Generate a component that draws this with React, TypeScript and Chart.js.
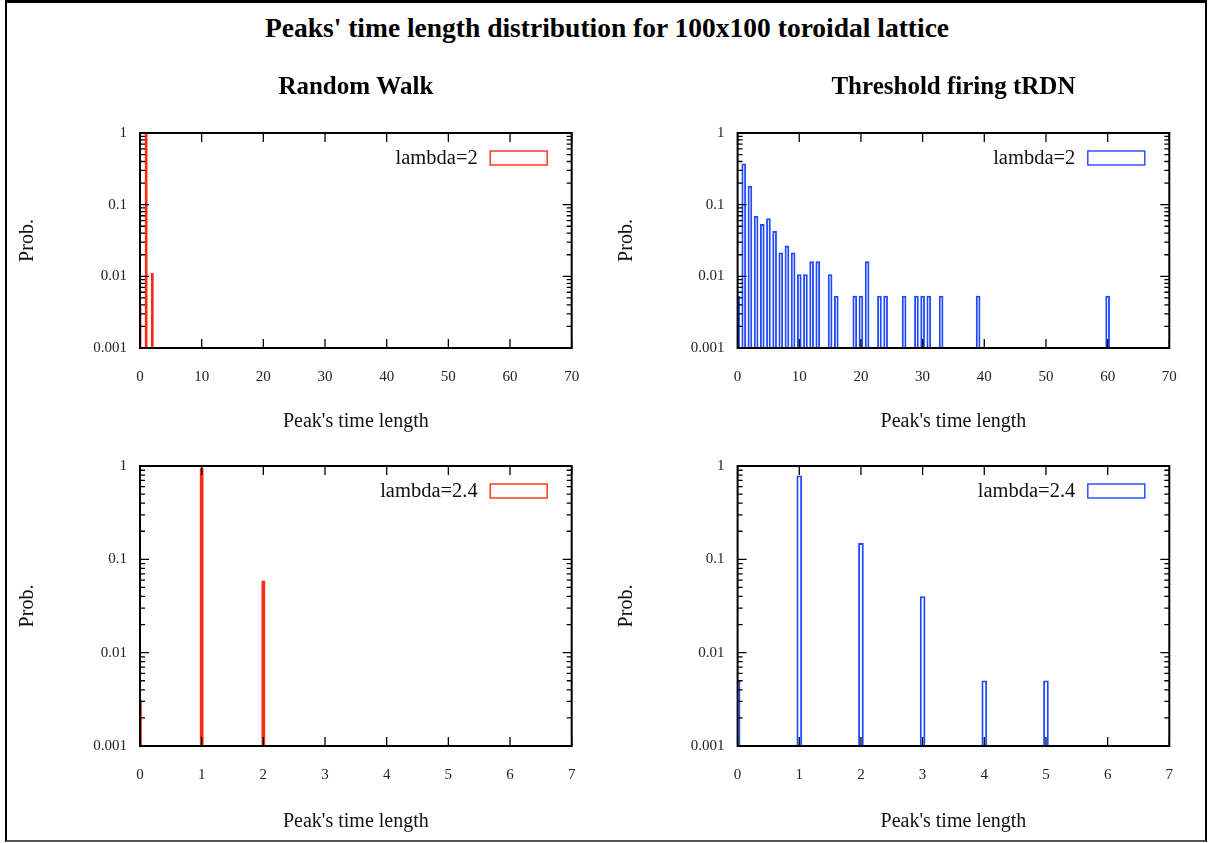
import React, { useEffect, useRef } from 'react';
import { Chart, registerables } from 'chart.js';

Chart.register(...registerables);

const FONT = '"Liberation Serif", "Times New Roman", serif';

const MAIN_TITLE = "Peaks' time length distribution for 100x100 toroidal lattice";
const COLUMN_TITLES = ['Random Walk', 'Threshold firing tRDN'];
const X_LABEL = "Peak's time length";
const Y_LABEL = 'Prob.';
const Y_TICKS = [0.001, 0.01, 0.1, 1];
const Y_TICK_LABELS = ['0.001', '0.01', '0.1', '1'];
const LEGEND_LABELS = ['lambda=2', 'lambda=2.4'];

// Random Walk, lambda=2
const rwL2Length = [0, 1, 2];
const rwL2Prob = [0.0037, 0.985, 0.011];

// Random Walk, lambda=2.4
const rwL24Length = [0, 1, 2];
const rwL24Prob = [0.0031, 0.945, 0.0586];

// Threshold firing tRDN, lambda=2
const trL2Length = [0, 1, 2, 3, 4, 5, 6, 7, 8, 9, 10, 11, 12, 13, 15, 16, 19, 20, 21, 23, 24, 27, 29, 30, 31, 33, 39, 60];
const trL2Prob = [
  0.0053, 0.372, 0.181, 0.069, 0.053, 0.064, 0.0426, 0.0213, 0.0266, 0.0213,
  0.0106, 0.0106, 0.016, 0.016, 0.0106, 0.0053, 0.0053, 0.0053, 0.016, 0.0053,
  0.0053, 0.0053, 0.0053, 0.0053, 0.0053, 0.0053, 0.0053, 0.0053,
];

// Threshold firing tRDN, lambda=2.4
const trL24Length = [0, 1, 2, 3, 4, 5];
const trL24Prob = [0.005, 0.787, 0.148, 0.04, 0.005, 0.005];

const RED = '#ff2a10';
const BLUE = '#1f48ff';

type PanelCfg = {
  left: number; top: number; width: number; height: number;
  padTop: number; padRight: number; yAxisW: number; xAxisH: number; yTitlePad: number;
  title: string; legend: string; color: string;
  xs: number[]; ys: number[]; xMax: number; xStep: number;
  bar: number; fill: boolean;
};

const panels: PanelCfg[] = [
  {
    left: 0, top: 60, width: 608, height: 374, padTop: 73, padRight: 36.3, yAxisW: 140, xAxisH: 86, yTitlePad: 16,
    title: COLUMN_TITLES[0], legend: LEGEND_LABELS[0], color: RED,
    xs: rwL2Length, ys: rwL2Prob, xMax: 70, xStep: 10, bar: 2, fill: true,
  },
  {
    left: 608, top: 60, width: 608, height: 374, padTop: 73, padRight: 46.7, yAxisW: 129.6, xAxisH: 86, yTitlePad: 7,
    title: COLUMN_TITLES[1], legend: LEGEND_LABELS[0], color: BLUE,
    xs: trL2Length, ys: trL2Prob, xMax: 70, xStep: 10, bar: 4, fill: false,
  },
  {
    left: 0, top: 440, width: 608, height: 394, padTop: 26, padRight: 36.3, yAxisW: 140, xAxisH: 88, yTitlePad: 16,
    title: '', legend: LEGEND_LABELS[1], color: RED,
    xs: rwL24Length, ys: rwL24Prob, xMax: 7, xStep: 1, bar: 3, fill: true,
  },
  {
    left: 608, top: 440, width: 608, height: 394, padTop: 26, padRight: 46.7, yAxisW: 129.6, xAxisH: 88, yTitlePad: 7,
    title: '', legend: LEGEND_LABELS[1], color: BLUE,
    xs: trL24Length, ys: trL24Prob, xMax: 7, xStep: 1, bar: 5, fill: false,
  },
];

const decorPlugin = {
  id: 'decor',
  afterDraw(chart: any, _args: any, opts: any) {
    const { ctx, chartArea: ca } = chart;
    const xs = chart.scales.x;
    const ys = chart.scales.y;
    ctx.save();
    ctx.strokeStyle = '#000';
    ctx.lineWidth = 1.3;
    ctx.beginPath();
    // x ticks (bottom & mirrored top)
    xs.ticks.forEach((t: any) => {
      const px = xs.getPixelForValue(t.value);
      ctx.moveTo(px, ca.bottom); ctx.lineTo(px, ca.bottom - 9);
      ctx.moveTo(px, ca.top); ctx.lineTo(px, ca.top + 9);
    });
    // y ticks (left & mirrored right), major decades and minor ticks
    Y_TICKS.forEach((d) => {
      const py = ys.getPixelForValue(d);
      ctx.moveTo(ca.left, py); ctx.lineTo(ca.left + 9, py);
      ctx.moveTo(ca.right, py); ctx.lineTo(ca.right - 9, py);
      if (d < 1) {
        for (let k = 2; k <= 9; k++) {
          const pm = ys.getPixelForValue(d * k);
          ctx.moveTo(ca.left, pm); ctx.lineTo(ca.left + 5, pm);
          ctx.moveTo(ca.right, pm); ctx.lineTo(ca.right - 5, pm);
        }
      }
    });
    ctx.stroke();
    // frame
    ctx.lineWidth = 2;
    ctx.strokeRect(ca.left, ca.top, ca.right - ca.left, ca.bottom - ca.top);

    // panel title
    if (opts.title) {
      ctx.fillStyle = '#000';
      ctx.font = `bold 25px ${FONT}`;
      ctx.textAlign = 'center';
      ctx.textBaseline = 'middle';
      ctx.fillText(opts.title, (ca.left + ca.right) / 2, ca.top - 45);
    }
    // legend
    const label = chart.data.datasets[0].label;
    ctx.fillStyle = '#111';
    ctx.font = `20.5px ${FONT}`;
    ctx.textAlign = 'right';
    ctx.textBaseline = 'middle';
    ctx.fillText(label, ca.right - 94, ca.top + 26);
    ctx.strokeStyle = opts.legendColor;
    ctx.lineWidth = 1.4;
    ctx.strokeRect(ca.right - 81.5, ca.top + 18, 57, 14);
    ctx.restore();
  },
};

function Panel({ cfg }: { cfg: PanelCfg }) {
  const ref = useRef<HTMLCanvasElement>(null);
  useEffect(() => {
    const chart = new Chart(ref.current as HTMLCanvasElement, {
      type: 'bar',
      data: {
        datasets: [
          {
            label: cfg.legend,
            data: cfg.xs.map((x, i) => ({ x, y: cfg.ys[i] })) as any,
            backgroundColor: cfg.fill ? cfg.color : 'rgba(0,0,0,0)',
            borderColor: cfg.color,
            borderWidth: cfg.fill ? 0 : 1.2,
            barThickness: cfg.bar,
            borderSkipped: 'start',
            clip: 0,
          } as any,
        ],
      },
      options: {
        responsive: false,
        animation: false,
        events: [],
        layout: { padding: { left: 0, top: cfg.padTop, right: cfg.padRight, bottom: 0 } },
        plugins: {
          legend: { display: false },
          tooltip: { enabled: false },
          decor: { title: cfg.title, legendColor: cfg.color },
        } as any,
        scales: {
          x: {
            type: 'linear',
            min: 0,
            max: cfg.xMax,
            offset: false,
            grid: { display: false, drawTicks: false },
            border: { display: false },
            ticks: {
              stepSize: cfg.xStep,
              padding: 20,
              autoSkip: false,
              maxRotation: 0,
              color: '#222',
              font: { family: FONT, size: 15 },
            },
            title: {
              display: true,
              text: X_LABEL,
              color: '#111',
              font: { family: FONT, size: 20 },
              padding: { top: 0, bottom: 0 },
            },
            afterFit: (s: any) => { s.height = cfg.xAxisH; },
          },
          y: {
            type: 'logarithmic',
            min: 0.001,
            max: 1,
            grid: { display: false, drawTicks: false },
            border: { display: false },
            afterBuildTicks: (s: any) => { s.ticks = Y_TICKS.map((v) => ({ value: v })); },
            ticks: {
              padding: 13,
              autoSkip: false,
              color: '#222',
              font: { family: FONT, size: 15 },
              callback: (_v: any, i: number) => Y_TICK_LABELS[i],
            },
            title: {
              display: true,
              text: Y_LABEL,
              color: '#111',
              font: { family: FONT, size: 20 },
              padding: { top: cfg.yTitlePad, bottom: 0 },
            },
            afterFit: (s: any) => { s.width = cfg.yAxisW; },
          },
        } as any,
      },
      plugins: [decorPlugin as any],
    });
    return () => chart.destroy();
  }, []);
  return (
    <canvas
      ref={ref}
      width={cfg.width}
      height={cfg.height}
      style={{ position: 'absolute', left: cfg.left, top: cfg.top, width: cfg.width, height: cfg.height }}
    />
  );
}

export default function App() {
  return (
    <div style={{ position: 'fixed', left: 0, top: 0, width: 1216, height: 843, background: '#fff', overflow: 'hidden' }}>
      <div
        style={{
          position: 'absolute', left: 5, top: 0, width: 1198, height: 837,
          borderTop: '3px solid #000', borderLeft: '2px solid #000', borderRight: '2px solid #000',
          borderBottom: '2px solid #555',
        }}
      />
      <div
        style={{
          position: 'absolute', left: 0, top: 14, width: 1214, textAlign: 'center',
          fontFamily: FONT, fontWeight: 'bold', fontSize: 27.5, lineHeight: '28px', color: '#000',
        }}
      >
        {MAIN_TITLE}
      </div>
      {panels.map((p, i) => (
        <Panel key={i} cfg={p} />
      ))}
    </div>
  );
}
